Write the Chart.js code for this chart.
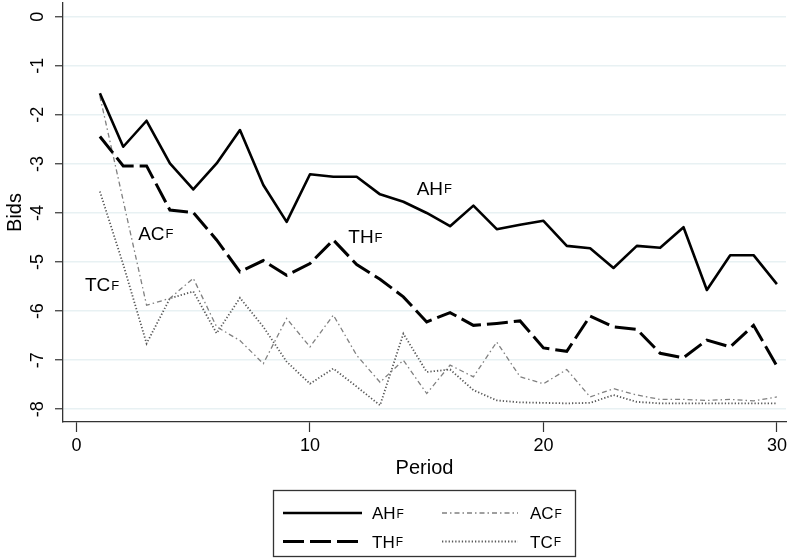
<!DOCTYPE html>
<html>
<head>
<meta charset="utf-8">
<script src="https://cdn.jsdelivr.net/npm/chart.js@4.4.0/dist/chart.umd.min.js"></script>
<style>
  body { margin: 0; background: #fff; }
  canvas { display: block; }
</style>
</head>
<body>
<canvas id="myChart" width="790" height="559"></canvas>
<script>
const periods = [1,2,3,4,5,6,7,8,9,10,11,12,13,14,15,16,17,18,19,20,21,22,23,24,25,26,27,28,29,30]

const ahBids = [-1.56,-2.65,-2.12,-2.99,-3.52,-2.99,-2.31,-3.43,-4.18,-3.21,-3.26,-3.26,-3.62,-3.77,-4.0,-4.27,-3.85,-4.33,-4.24,-4.16,-4.67,-4.72,-5.12,-4.67,-4.71,-4.29,-5.57,-4.86,-4.86,-5.45]
const thBids = [-2.44,-3.04,-3.04,-3.94,-3.99,-4.55,-5.2,-4.97,-5.27,-5.03,-4.55,-5.05,-5.35,-5.71,-6.22,-6.03,-6.29,-6.25,-6.2,-6.75,-6.82,-6.1,-6.32,-6.37,-6.86,-6.95,-6.59,-6.73,-6.29,-7.12]
const acBids = [-1.62,-3.75,-5.88,-5.74,-5.33,-6.32,-6.6,-7.07,-6.15,-6.73,-6.08,-6.9,-7.45,-7.0,-7.68,-7.1,-7.34,-6.63,-7.34,-7.48,-7.19,-7.75,-7.58,-7.71,-7.8,-7.8,-7.82,-7.8,-7.83,-7.75]
const tcBids = [-3.56,-5.05,-6.66,-5.74,-5.6,-6.45,-5.73,-6.32,-7.03,-7.48,-7.17,-7.54,-7.92,-6.46,-7.24,-7.19,-7.61,-7.82,-7.86,-7.87,-7.88,-7.87,-7.71,-7.85,-7.88,-7.88,-7.88,-7.88,-7.88,-7.88]

const xTicks = [0,10,20,30]
const yTicks = [0,-1,-2,-3,-4,-5,-6,-7,-8]
const sup = 'F'

// where the series names sit inside the plot (data units)
const inPlotLabels = [
  {text: 'AH', x: 14.57, y: -3.63},
  {text: 'TH', x: 11.64, y: -4.62},
  {text: 'AC', x: 2.64, y: -4.55},
  {text: 'TC', x: 0.36, y: -5.6}
]

const FONT = '"Liberation Sans", Arial, Helvetica, sans-serif'

const toPoints = (vals)=> vals.map((v, i)=> ({x: periods[i], y: v}))

const drawSup = (ctx, text, x, y, size, supSize)=>{
  ctx.font = size + 'px ' + FONT
  ctx.textAlign = 'left'
  ctx.textBaseline = 'alphabetic'
  ctx.fillStyle = '#000'
  ctx.fillText(text, x, y)
  const w = ctx.measureText(text).width
  ctx.font = supSize + 'px ' + FONT
  ctx.fillText(sup, x + w + 1, y - 1.5)
}

const extras = {
  id: 'extras',
  afterDraw(chart){
    const ctx = chart.ctx
    const xs = chart.scales.x, ys = chart.scales.y
    ctx.save()
    inPlotLabels.forEach(l=>{
      drawSup(ctx, l.text, xs.getPixelForValue(l.x), ys.getPixelForValue(l.y), 19, 13)
    })

    // legend box
    ctx.setLineDash([])
    ctx.lineWidth = 1.3
    ctx.strokeStyle = '#333'
    ctx.strokeRect(273.5, 490.5, 302, 66)
    chart.data.datasets.forEach((ds, i)=>{
      const col = Math.floor(i / 2), row = i % 2
      const sx = col ? 442 : 283
      const sw = col ? 76 : 79
      const sy = row ? 541.5 : 513
      ctx.beginPath()
      ctx.setLineDash(ds.borderDash || [])
      ctx.lineWidth = ds.borderWidth
      ctx.strokeStyle = ds.borderColor
      ctx.moveTo(sx, sy)
      ctx.lineTo(sx + sw, sy)
      ctx.stroke()
      ctx.setLineDash([])
      drawSup(ctx, ds.label, col ? 530 : 372, sy + 6.3, 17, 12)
    })
    ctx.restore()
  }
}

new Chart('myChart', {
  type: 'line',
  data: {
    datasets: [{
      label: 'AH',
      data: toPoints(ahBids),
      borderColor: '#000',
      borderWidth: 2.6,
      borderJoinStyle: 'round'
    }, {
      label: 'TH',
      data: toPoints(thBids),
      borderColor: '#000',
      borderWidth: 3,
      borderDash: [21, 6]
    }, {
      label: 'AC',
      data: toPoints(acBids),
      borderColor: '#808080',
      borderWidth: 1.3,
      borderDash: [5, 3, 1.5, 3]
    }, {
      label: 'TC',
      data: toPoints(tcBids),
      borderColor: '#5a5a5a',
      borderWidth: 1.8,
      borderDash: [1.3, 2]
    }]
  },
  options: {
    responsive: false,
    animation: false,
    devicePixelRatio: 1,
    elements: { point: { radius: 0 }, line: { tension: 0, fill: false } },
    layout: { padding: { left: 0, top: 3, right: 4, bottom: 57 } },
    plugins: { legend: { display: false }, tooltip: { enabled: false } },
    scales: {
      x: {
        type: 'linear',
        min: -0.58,
        max: 30.39,
        afterBuildTicks: (s)=>{ s.ticks = xTicks.map(v=>({value: v})) },
        afterFit: (s)=>{ s.height = 80; s.paddingLeft = 0; s.paddingRight = 0 },
        grid: { drawOnChartArea: false, drawTicks: true, tickLength: 10, tickColor: '#333', tickWidth: 1.2 },
        border: { display: true, color: '#333', width: 1.3 },
        ticks: { color: '#000', font: { family: FONT, size: 18 }, padding: 3, maxRotation: 0, autoSkip: false, callback: (v)=> String(v) },
        title: { display: true, text: 'Period', color: '#000', font: { family: FONT, size: 20 }, padding: { top: 0, bottom: 22 } }
      },
      y: {
        type: 'linear',
        min: -8.26,
        max: 0.28,
        afterBuildTicks: (s)=>{ s.ticks = yTicks.map(v=>({value: v})) },
        afterFit: (s)=>{ s.width = 63; s.paddingTop = 0; s.paddingBottom = 0 },
        grid: { color: 'rgb(232, 241, 243)', lineWidth: 1.5, drawTicks: true, tickLength: 8, tickColor: '#333', tickWidth: 1.2 },
        border: { display: true, color: '#333', width: 1.3 },
        ticks: { color: '#000', font: { family: FONT, size: 18 }, padding: 8.5, minRotation: 90, maxRotation: 90, crossAlign: 'center', autoSkip: false, callback: (v)=> String(v) },
        title: { display: true, text: 'Bids', color: '#000', font: { family: FONT, size: 20 }, padding: { top: 3.5, bottom: 0 } }
      }
    }
  },
  plugins: [extras]
})
</script>
</body>
</html>
